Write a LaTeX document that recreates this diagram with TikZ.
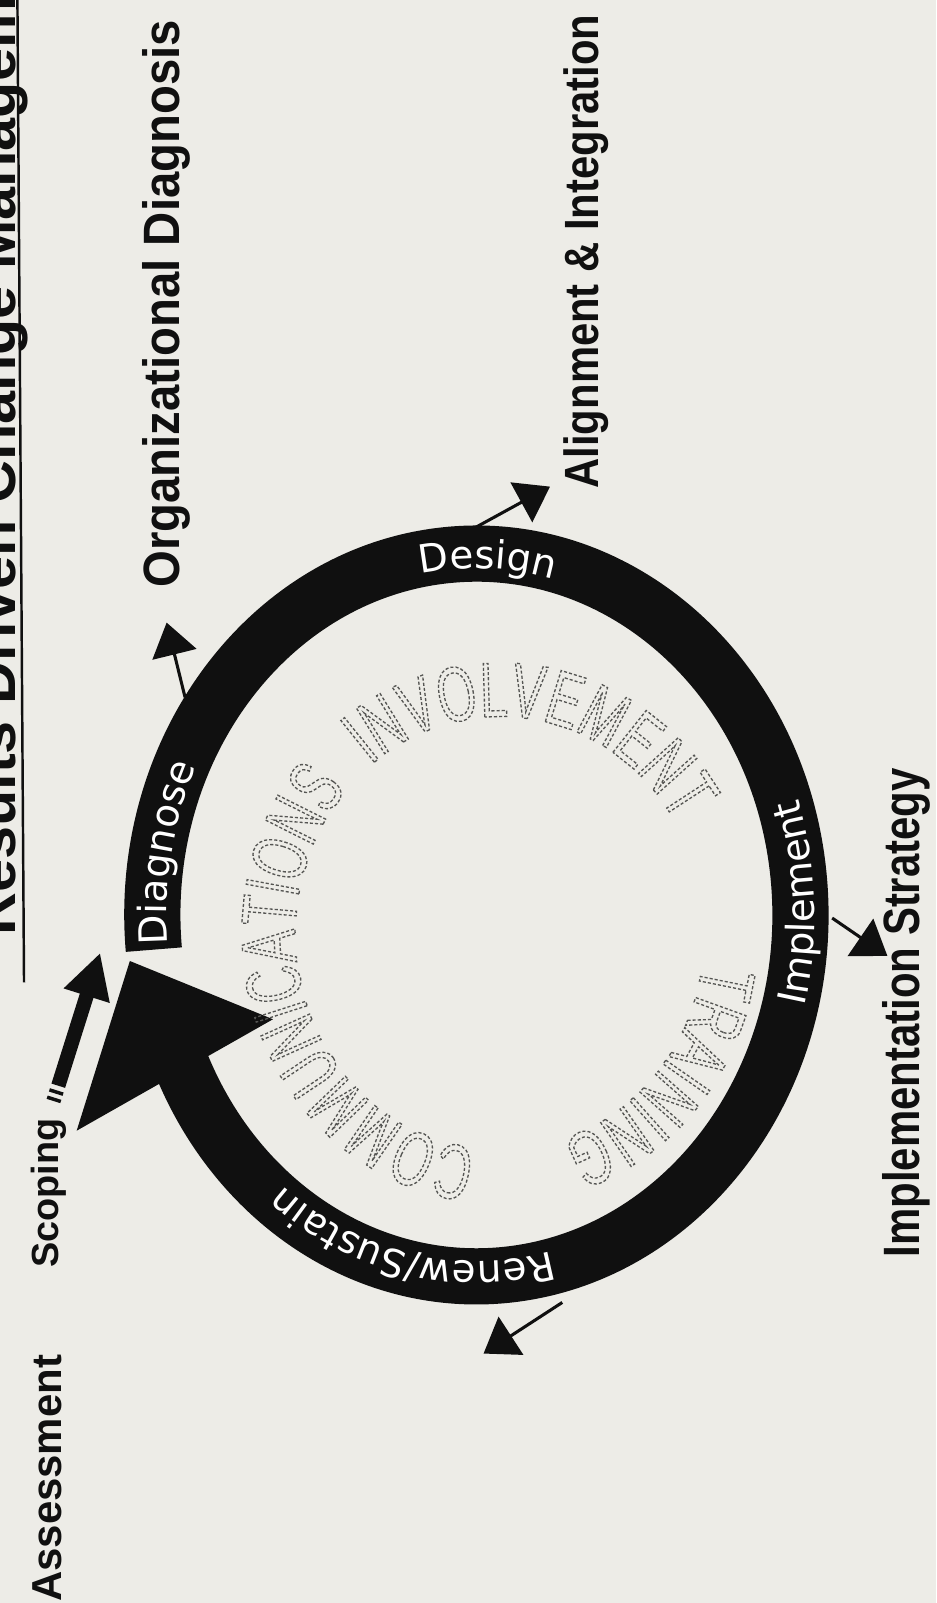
\documentclass[tikz,border=0pt]{standalone}
\usepackage{fontspec}
\setmainfont{Liberation Sans}
\newfontfamily\ringfam{DejaVu Sans}
\newfontfamily\ghostfam[FakeStretch=0.64]{Liberation Sans}
\usetikzlibrary{arrows.meta,calc,decorations.text}
\definecolor{paper}{RGB}{237,236,231}
\definecolor{ink}{RGB}{16,16,16}
\definecolor{ghost}{RGB}{85,85,83}
\newcommand{\ringf}{\ringfam\fontsize{38}{38}\selectfont}
\newcommand{\ghostf}{\ghostfam\fontsize{76}{76}\selectfont\special{pdf:literal direct 1 Tr 1.3 w [3 2] 0 d}}
\begin{document}
\begin{tikzpicture}[x=1pt,y=-1pt,
  lab/.style={font=\bfseries\fontsize{#1}{#1}\selectfont, text=ink, inner sep=0pt, rotate=90, anchor=base west},
  ptr/.style={draw=ink, line width=3pt, -{Triangle[length=32pt 0 0,width=44pt 0 0]}},
  ringlab/.style={decorate, decoration={text along path, text={|\ringf|#1}, text color=white, text align=center}},
  ghostlab/.style={decorate, decoration={text along path, text={|\ghostf|#1}, text color=ghost, text align=center}}]
\fill[paper] (0,0) rectangle (916,1568);
\useasboundingbox (0,0) rectangle (916,1568);
\clip (0,0) rectangle (916,1568);
% centres
\coordinate (C) at (466,895);
\coordinate (D) at (489,913);
% title
\node[lab=58] (title) at (15,915) {Results Driven Change Management};
\coordinate (ul1) at (17,-5);
\coordinate (ul2) at (23.5,961);
\draw[ink, line width=2.4pt] (ul1) -- (ul2);
% ring
\draw[ink, line width=55pt] ($(C)+(174.5:317 and 353.5)$) arc[start angle=174.5, end angle=516, x radius=317, y radius=353.5];
% big arrow head
\coordinate (bigtip) at (127,940);
\coordinate (bigR) at (267,997);
\coordinate (bigL) at (75,1106);
\fill[ink] (bigtip) -- (bigR) -- (bigL) -- cycle;
% ring labels
\path[ringlab=Diagnose] ($(C)+(160:303 and 339)$) arc[start angle=160, end angle=221, x radius=303, y radius=339];
\path[ringlab=Design] ($(C)+(242:303 and 339)$) arc[start angle=242, end angle=302, x radius=303, y radius=339];
\path[ringlab=Implement] ($(C)+(388:331 and 368)$) arc[start angle=388, end angle=328, x radius=331, y radius=368];
\path[ringlab=Renew/Sustain] ($(C)+(62:303 and 339)$) arc[start angle=62, end angle=142, x radius=303, y radius=339];
% scoping arrow
\coordinate (sctail) at (57,1062);
\coordinate (sctip) at (98,932);
\draw[ink, line width=14pt, -{Triangle[length=44pt 0 0,width=44pt 0 0]}] (sctail) -- (sctip);
\draw[ink, line width=14pt] ($(sctail)!-0.035!(sctip)$) -- ($(sctail)!-0.06!(sctip)$);
\draw[ink, line width=14pt] ($(sctail)!-0.09!(sctip)$) -- ($(sctail)!-0.115!(sctip)$);
% outer labels
\node[lab=37] (scoping) at (57,1240) {Scoping};
\node[lab=41] (assess) at (60,1567) {Assessment};
\node[lab=50, xscale=0.925] (orgdiag) at (176,575) {Organizational Diagnosis};
\node[lab=47, xscale=0.87] (align) at (585,478) {Alignment \& Integration};
\node[lab=50, xscale=0.82] (implstr) at (899,1230) {Implementation Strategy};
% pointers
\coordinate (orgS) at (181,682);
\coordinate (orgT) at (163,609);
\draw[ptr] (orgS) -- (orgT);
\coordinate (alS) at (465,516);
\coordinate (alT) at (538,476);
\draw[ptr] (alS) -- (alT);
\coordinate (imS) at (814,898);
\coordinate (imT) at (868,935);
\draw[ptr] (imS) -- (imT);
\coordinate (asS) at (550,1274);
\coordinate (asT) at (473,1324);
\draw[ptr] (asS) -- (asT);
% inner ghost words (outlined)
\path[ghostlab=COMMUNICATIONS] ($(D)+(84:200 and 212)$) arc[start angle=84, end angle=234, x radius=200, y radius=212];
\path[ghostlab=INVOLVEMENT] ($(D)+(215:200 and 212)$) arc[start angle=215, end angle=345, x radius=200, y radius=212];
\path[ghostlab=TRAINING] ($(D)+(-19:200 and 212)$) arc[start angle=-19, end angle=101, x radius=200, y radius=212];
\end{tikzpicture}
\end{document}
